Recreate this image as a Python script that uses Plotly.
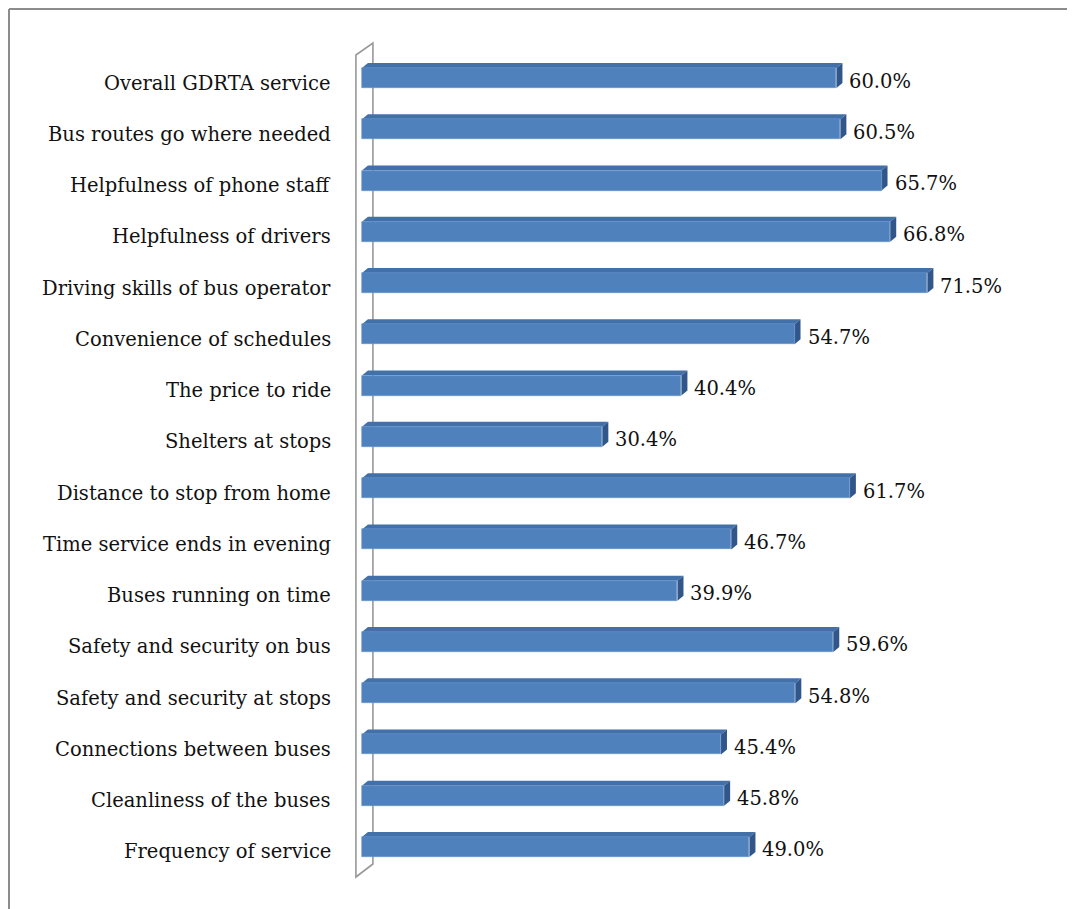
import plotly.graph_objects as go

categories = [
    "Overall GDRTA service",
    "Bus routes go where needed",
    "Helpfulness of phone staff",
    "Helpfulness of drivers",
    "Driving skills of bus operator",
    "Convenience of schedules",
    "The price to ride",
    "Shelters at stops",
    "Distance to stop from home",
    "Time service ends in evening",
    "Buses running on time",
    "Safety and security on bus",
    "Safety and security at stops",
    "Connections between buses",
    "Cleanliness of the buses",
    "Frequency of service",
]
values = [60.0, 60.5, 65.7, 66.8, 71.5, 54.7, 40.4, 30.4, 61.7, 46.7, 39.9, 59.6, 54.8, 45.4, 45.8, 49.0]
value_labels = [f"{v:.1f}%" for v in values]

# page has an 8px body margin, so the figure is drawn 8px smaller and offset
W, H = 1067, 901
L, R, T, B = 346, 10, 29, 21
XMIN, XMAX = -1.0, 88.9
YTOP, YBOT = -0.8, 15.8
pxx = (W - L - R) / (XMAX - XMIN)
pxy = (H - T - B) / (YBOT - YTOP)

FONT = "DejaVu Serif"
FSIZE = 19.5
FRONT = "#4F81BD"
TOP = "#4271AA"
SIDE = "#30568A"

idx = list(range(len(categories)))
half = 0.195
dx = 6 / pxx
dy = 5 / pxy

fig = go.Figure()
fig.add_trace(go.Bar(
    y=idx, x=values, orientation="h", width=2 * half,
    marker=dict(color=FRONT, line=dict(color="#6a96cc", width=0.6)),
    hoverinfo="skip", showlegend=False,
))

shapes = []
# back wall
wx0, wx1 = -6 / pxx, 11 / pxx
shapes.append(dict(
    type="path", xref="x", yref="y", layer="below",
    path=f"M {wx0},{-23/pxy} L {wx1},{-35/pxy} L {wx1},{786/pxy} L {wx0},{799/pxy} Z",
    line=dict(color="#999999", width=1.6), fillcolor="white",
))
for i, v in zip(idx, values):
    yt = i - half
    yb = i + half
    shapes.append(dict(
        type="path", xref="x", yref="y", layer="below",
        path=f"M 0,{yt} L {v},{yt} L {v+dx},{yt-dy} L {dx},{yt-dy} Z",
        fillcolor=TOP, line=dict(width=0),
    ))
    shapes.append(dict(
        type="path", xref="x", yref="y", layer="below",
        path=f"M {v},{yt} L {v+dx},{yt-dy} L {v+dx},{yb-dy} L {v},{yb} Z",
        fillcolor=SIDE, line=dict(width=0),
    ))

# outer border (top and left)
def px2paper_x(p):
    return (p - L) / (W - L - R)

def px2paper_y(p):
    return 1 - (p - T) / (H - T - B)

shapes.append(dict(type="line", xref="paper", yref="paper",
                   x0=px2paper_x(1), x1=px2paper_x(1080), y0=px2paper_y(1), y1=px2paper_y(1),
                   line=dict(color="#8c8c8c", width=2)))
shapes.append(dict(type="line", xref="paper", yref="paper",
                   x0=px2paper_x(1), x1=px2paper_x(1), y0=px2paper_y(1), y1=px2paper_y(915),
                   line=dict(color="#8c8c8c", width=2)))

annotations = []
for i, c in zip(idx, categories):
    annotations.append(dict(
        x=0, y=i, xref="x", yref="y", text=c, showarrow=False,
        xanchor="right", yanchor="middle", xshift=-29, yshift=-5,
        font=dict(family=FONT, size=FSIZE, color="#111111"),
    ))
for i, v, t in zip(idx, values, value_labels):
    annotations.append(dict(
        x=v + dx, y=i, xref="x", yref="y", text=t, showarrow=False,
        xanchor="left", yanchor="middle", xshift=5, yshift=-3,
        font=dict(family=FONT, size=FSIZE, color="#111111"),
    ))

fig.update_layout(
    width=W, height=H,
    margin=dict(l=L, r=R, t=T, b=B, pad=0),
    paper_bgcolor="white", plot_bgcolor="rgba(0,0,0,0)",
    xaxis=dict(range=[XMIN, XMAX], visible=False, fixedrange=True),
    yaxis=dict(range=[YBOT, YTOP], visible=False, fixedrange=True),
    shapes=shapes, annotations=annotations,
    bargap=0,
)

fig.write_html("out.html")
